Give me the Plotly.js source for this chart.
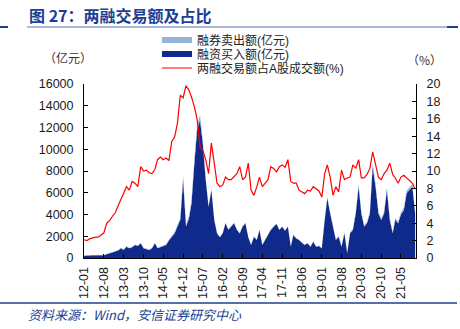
<!DOCTYPE html>
<html>
<head>
<meta charset="utf-8">
<script src="https://cdn.plot.ly/plotly-3.0.1.min.js"></script>
<style>html,body{margin:0;padding:0;background:#fff;}#chart{width:460px;height:329px;}</style>
</head>
<body>
<div id="chart"></div>
<script>
// ---- data (monthly, 2012-01 .. 2021-10) ----
const startYear = 2012;
const monthCount = 118;
const months = [];
for (let i = 0; i < monthCount; i++) {
  const y = startYear + Math.floor(i / 12);
  const m = (i % 12) + 1;
  months.push(y + '-' + (m < 10 ? '0' + m : m) + '-01');
}

// 融资买入额(亿元)
const marginBuy = [
  200,180,230,250,260,240,220,250,350,430,480,580,
  700,890,740,1040,890,1000,1200,1100,1350,890,800,740,
  900,1350,890,1000,1040,1200,1600,1960,2270,2900,3500,7200,
  2900,3600,5000,8700,11800,12700,10500,7200,4700,6250,3500,2250,
  1900,2300,3200,2600,2900,3200,2600,2250,2900,3200,1900,1200,
  1960,1650,2580,1200,1650,2200,2580,2880,3130,2580,2880,2500,
  2880,1040,2120,1800,1650,1400,1200,1350,1040,1500,1040,1100,
  890,3500,5500,4100,2880,1650,1960,1040,2270,430,2270,2580,
  4100,6560,4100,2880,3190,4100,8400,6560,4100,3500,4100,6250,
  3500,2270,3500,3190,4000,4400,5950,6250,6560,4100
];

// 融券卖出额(亿元)
const shortSell = [
  15,15,15,18,18,18,20,20,25,25,30,30,
  35,40,40,45,40,45,50,50,55,45,40,40,
  45,55,45,50,50,55,70,90,110,150,200,380,
  180,220,300,420,480,450,300,150,80,100,60,40,
  30,35,45,40,45,50,40,40,45,50,35,30,
  35,30,40,25,30,35,40,45,50,45,50,45,
  50,25,40,35,35,30,30,35,30,35,30,30,
  30,90,150,110,80,60,70,50,90,30,90,100,
  140,250,160,130,140,170,330,260,170,150,170,250,
  170,120,170,160,200,210,260,270,220,180
];

// 两融交易额占A股成交额(%)
const ratioPct = [
  2.1,2.0,2.2,2.3,2.4,2.4,2.6,2.9,4.0,4.3,4.8,5.2,
  6.0,6.7,7.5,8.2,7.8,8.8,8.6,8.2,10.5,10.0,10.1,9.8,
  9.7,10.2,11.3,11.6,11.3,11.5,11.2,13.4,13.9,15.5,18.7,18.4,
  19.8,19.3,18.5,17.4,15.9,12.8,12.4,11.3,9.7,13.2,10.9,8.6,
  8.2,8.4,9.3,9.0,9.0,9.4,9.7,10.5,9.0,9.3,10.9,7.8,
  7.2,8.2,9.3,8.2,8.6,9.0,10.5,10.3,9.9,10.5,10.7,10.4,
  11.3,8.8,8.6,8.6,7.8,7.6,7.4,7.8,7.7,8.2,7.9,7.7,
  7.0,9.7,10.7,9.3,7.2,8.2,7.6,10.1,9.0,9.2,9.3,10.7,
  10.3,11.3,9.2,9.2,9.6,10.3,12.2,10.7,9.3,9.0,9.7,10.1,
  10.9,9.6,9.2,8.6,9.3,9.5,9.2,9.0,8.6,7.9
];

const tickDates = ['2012-01-01','2012-08-01','2013-03-01','2013-10-01','2014-05-01','2014-12-01',
  '2015-07-01','2016-02-01','2016-09-01','2017-04-01','2017-11-01','2018-06-01','2019-01-01',
  '2019-08-01','2020-03-01','2020-10-01','2021-05-01'];
const tickLabels = ['12-01','12-08','13-03','13-10','14-05','14-12','15-07','16-02','16-09',
  '17-04','17-11','18-06','19-01','19-08','20-03','20-10','21-05'];

const nameShort = '融券卖出额(亿元)';
const nameBuy = '融资买入额(亿元)';
const nameRatio = '两融交易额占A股成交额(%)';

// ---- styles ----
const FONT = 'Arial, "Liberation Sans", "Noto Sans CJK SC", sans-serif';
const NAVY = '#102A8C';
const LIGHT = '#95B3D7';
const TITLEBLUE = '#1C3F94';
const RED = '#FF0000';

const traces = [
  {x: months, y: marginBuy, name: nameBuy, type: 'scatter', mode: 'lines', showlegend: false,
   stackgroup: 'one', line: {width: 0, color: NAVY}, fillcolor: NAVY},
  {x: months, y: shortSell, name: nameShort, type: 'scatter', mode: 'lines', showlegend: false,
   stackgroup: 'one', line: {width: 0, color: LIGHT}, fillcolor: LIGHT},
  {x: months, y: ratioPct, name: nameRatio, type: 'scatter', mode: 'lines', yaxis: 'y2', showlegend: false,
   line: {width: 1.2, color: RED}},
  // legend entries (no data)
  {x: [null], y: [null], name: nameShort, type: 'scatter', mode: 'lines', legend: 'legend',
   line: {width: 6, color: LIGHT}},
  {x: [null], y: [null], name: nameBuy, type: 'scatter', mode: 'lines', legend: 'legend2',
   line: {width: 6, color: NAVY}},
  {x: [null], y: [null], name: nameRatio, type: 'scatter', mode: 'lines', legend: 'legend3', yaxis: 'y2',
   line: {width: 1.2, color: RED}}
];

const L = 84, R = 416, T = 84, B = 258;
const W = 460, H = 329;
const px = x => (x - L) / (R - L);
const py = y => (B - y) / (B - T);

function legendAt(yc) {
  return {x: px(157), y: py(yc), xref: 'paper', yref: 'paper',
    xanchor: 'left', yanchor: 'middle', bgcolor: 'rgba(0,0,0,0)',
    font: {size: 12, color: '#222', family: FONT}, itemwidth: 30};
}

const layout = {
  width: W, height: H,
  margin: {l: L, r: W - R, t: T, b: H - B, pad: 0, autoexpand: false},
  paper_bgcolor: '#fff', plot_bgcolor: '#fff',
  font: {family: FONT, size: 12.5, color: '#1a1a1a'},
  showlegend: true,
  legend: legendAt(40),
  legend2: legendAt(54),
  legend3: legendAt(68),
  xaxis: {type: 'date', range: ['2011-12-31', '2021-10-10'], automargin: false,
    tickvals: tickDates, ticktext: tickLabels, tickangle: -90, ticklabelstandoff: 3,
    ticks: 'inside', ticklen: 4, tickcolor: '#000', showline: true, linecolor: '#000', linewidth: 1,
    showgrid: false, zeroline: false, tickfont: {size: 12.5, color: '#1a1a1a'}},
  yaxis: {range: [0, 16000], dtick: 2000, tick0: 0, ticks: 'inside', ticklen: 4, tickcolor: '#000',
    showline: true, linecolor: '#000', linewidth: 1, showgrid: false, zeroline: false, automargin: false,
    ticklabelstandoff: 7, tickfont: {size: 12.5, color: '#1a1a1a'}, tickformat: 'd'},
  yaxis2: {range: [0, 20], dtick: 2, tick0: 0, overlaying: 'y', side: 'right', anchor: 'x', automargin: false,
    ticks: 'inside', ticklen: 4, tickcolor: '#000', showline: true, linecolor: '#000', linewidth: 1,
    ticklabelstandoff: 7, showgrid: false, zeroline: false, tickfont: {size: 12.5, color: '#1a1a1a'}},
  shapes: [
    {type: 'line', xref: 'paper', yref: 'paper', x0: px(0), x1: px(8), y0: py(27), y1: py(27), line: {color: TITLEBLUE, width: 2}},
    {type: 'line', xref: 'paper', yref: 'paper', x0: px(27), x1: px(447), y0: py(27), y1: py(27), line: {color: '#5A74B0', width: 1}},
    {type: 'line', xref: 'paper', yref: 'paper', x0: px(447), x1: px(458), y0: py(27), y1: py(27), line: {color: TITLEBLUE, width: 2}},
    {type: 'line', xref: 'paper', yref: 'paper', x0: px(0), x1: px(457), y0: py(303), y1: py(303), line: {color: TITLEBLUE, width: 1.5}}
  ],
  annotations: [
    {text: '<b>图 27：两融交易额及占比</b>', xref: 'paper', yref: 'paper', x: px(27), y: py(15),
     xanchor: 'left', yanchor: 'middle', showarrow: false,
     font: {size: 16, color: TITLEBLUE, family: '"Noto Sans CJK SC", Arial, sans-serif'}},
    {text: '<i>资料来源：Wind，安信证券研究中心</i>', xref: 'paper', yref: 'paper', x: px(26), y: py(314),
     xanchor: 'left', yanchor: 'middle', showarrow: false,
     font: {size: 13, color: TITLEBLUE, family: '"Noto Sans CJK SC", Arial, sans-serif'}},
    {text: '（亿元）', xref: 'paper', yref: 'paper', x: px(68), y: py(57),
     xanchor: 'center', yanchor: 'middle', showarrow: false,
     font: {size: 12, color: '#333', family: '"Noto Sans CJK SC", Arial, sans-serif'}},
    {text: '（%）', xref: 'paper', yref: 'paper', x: px(424), y: py(60),
     xanchor: 'center', yanchor: 'middle', showarrow: false,
     font: {size: 12, color: '#333', family: '"Noto Sans CJK SC", Arial, sans-serif'}}
  ]
};

Plotly.newPlot('chart', traces, layout, {displayModeBar: false, staticPlot: true});
</script>
</body>
</html>
